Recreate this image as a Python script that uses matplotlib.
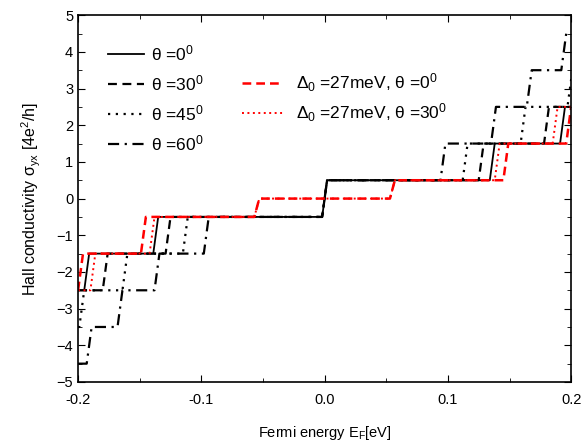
import matplotlib
matplotlib.use("Agg")
import matplotlib.pyplot as plt
from matplotlib.ticker import MultipleLocator

plt.rcParams['font.family'] = ['Liberation Sans', 'DejaVu Sans']
plt.rcParams['mathtext.fontset'] = 'custom'
plt.rcParams['mathtext.rm'] = 'Liberation Sans'
plt.rcParams['mathtext.it'] = 'Liberation Sans'
plt.rcParams['mathtext.default'] = 'regular'

# step energies (eV) and plateau values (4e^2/h)
steps_th0 = [-0.193, -0.137, 0.0, 0.136, 0.193]
plat_th0 = [-2.5, -1.5, -0.5, 0.5, 1.5, 2.5]

steps_th30 = [-0.178, -0.127, 0.0, 0.127, 0.180]
plat_th30 = [-2.5, -1.5, -0.5, 0.5, 1.5, 2.5]

steps_th45 = [-0.197, -0.162, -0.113, 0.0, 0.114, 0.161, 0.199]
plat_th45 = [-3.5, -2.5, -1.5, -0.5, 0.5, 1.5, 2.5, 3.5]

steps_th60 = [-0.191, -0.166, -0.136, -0.096, 0.0, 0.096, 0.137, 0.166, 0.194]
plat_th60 = [-4.5, -3.5, -2.5, -1.5, -0.5, 0.5, 1.5, 2.5, 3.5, 4.5]

steps_d_th0 = [-0.198, -0.147, -0.055, 0.055, 0.147, 0.198]
plat_d_th0 = [-2.5, -1.5, -0.5, 0.0, 0.5, 1.5, 2.5]

steps_d_th30 = [-0.188, -0.140, -0.055, 0.055, 0.140, 0.187]
plat_d_th30 = [-2.5, -1.5, -0.5, 0.0, 0.5, 1.5, 2.5]

e_min, e_max = -0.2, 0.2
width = 0.004


def staircase(steps, plats):
    xs = [e_min]
    ys = [plats[0]]
    for c, v0, v1 in zip(steps, plats[:-1], plats[1:]):
        xs += [c - width / 2, c + width / 2]
        ys += [v0, v1]
    xs.append(e_max)
    ys.append(plats[-1])
    return xs, ys


fig = plt.figure(figsize=(5.87, 4.46), dpi=100)
ax = fig.add_axes([0.133, 0.1435, 0.84, 0.8225])

x, y = staircase(steps_th0, plat_th0)
l0, = ax.plot(x, y, color='black', lw=1.3, label='θ =0$^0$')
x, y = staircase(steps_th30, plat_th30)
l1, = ax.plot(x, y, color='black', lw=1.6, dashes=(4, 2.5), label='θ =30$^0$')
x, y = staircase(steps_th45, plat_th45)
l2, = ax.plot(x, y, color='black', lw=1.6, dashes=(1, 2.5), label='θ =45$^0$')
x, y = staircase(steps_th60, plat_th60)
l3, = ax.plot(x, y, color='black', lw=1.6, dashes=(5, 2.5, 1, 2.5), label='θ =60$^0$')
x, y = staircase(steps_d_th0, plat_d_th0)
r0, = ax.plot(x, y, color='red', lw=1.8, dashes=(3.5, 2), label='$\\Delta_0$ =27meV, θ =0$^0$')
x, y = staircase(steps_d_th30, plat_d_th30)
r1, = ax.plot(x, y, color='red', lw=1.4, dashes=(1, 1.8), label='$\\Delta_0$ =27meV, θ =30$^0$')

ax.set_xlim(e_min, e_max)
ax.set_ylim(-5, 5)
ax.xaxis.set_major_locator(MultipleLocator(0.1))
ax.xaxis.set_minor_locator(MultipleLocator(0.05))
ax.yaxis.set_major_locator(MultipleLocator(1))
ax.yaxis.set_minor_locator(MultipleLocator(0.5))
ax.xaxis.set_major_formatter(matplotlib.ticker.FormatStrFormatter('%.1f'))
ax.tick_params(which='both', direction='in', top=True, right=True, labelsize=10.5)
ax.tick_params(which='major', length=5)
ax.tick_params(which='minor', length=3)
ax.tick_params(axis='x', which='major', pad=8)
for s in ax.spines.values():
    s.set_linewidth(1.2)

ax.set_xlabel('Fermi energy E$_F$[eV]', fontsize=10.5, labelpad=12)
ax.set_ylabel('Hall conductivity σ$_{yx}$ [4e$^2$/h]', fontsize=11.5, labelpad=10)

leg1 = ax.legend(handles=[l0, l1, l2, l3], loc='upper left', bbox_to_anchor=(0.06, 0.923),
                 frameon=False, fontsize=12.5, handlelength=2.1, handletextpad=0.4,
                 labelspacing=0.58, borderpad=0, borderaxespad=0)
ax.add_artist(leg1)
ax.legend(handles=[r0, r1], loc='upper left', bbox_to_anchor=(0.332, 0.847),
          frameon=False, fontsize=12.5, handlelength=2.4, handletextpad=0.7,
          labelspacing=0.45, borderpad=0, borderaxespad=0)

fig.savefig('out.png', dpi=100)
